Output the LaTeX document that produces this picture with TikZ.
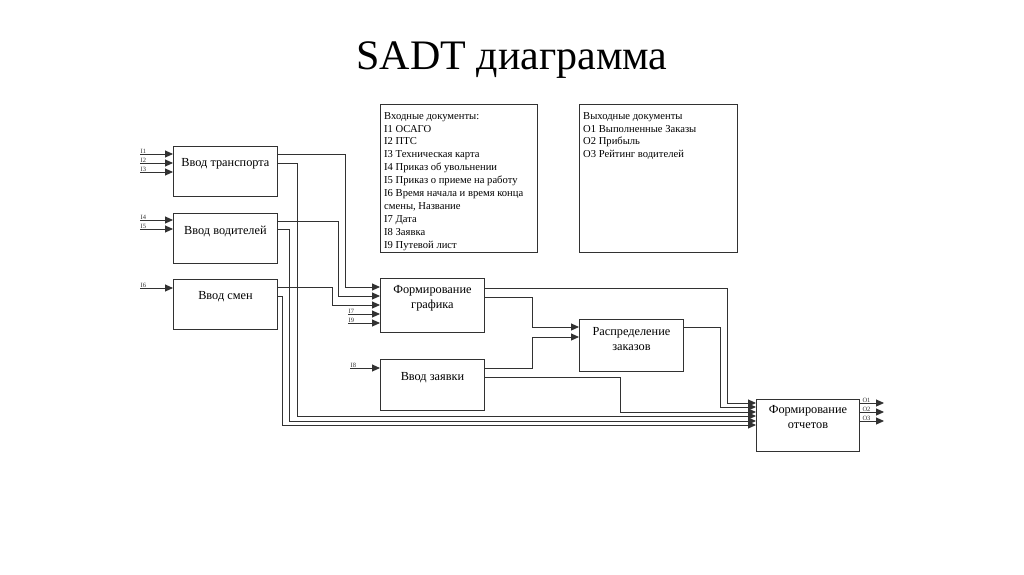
\documentclass[tikz,border=0pt]{standalone}
\usepackage{fontspec}
\setmainfont{Liberation Serif}
\usetikzlibrary{arrows.meta,calc}
\definecolor{ln}{RGB}{50,50,50}
\begin{document}
\begin{tikzpicture}[x=1pt,y=-1pt,
 blk/.style={draw=ln, line width=0.9pt, rectangle, anchor=north west, inner sep=0pt},
 btx/.style={font=\fontsize{12.3}{15}\selectfont, align=center, inner sep=0pt},
 wire/.style={draw=ln, line width=0.9pt},
 arr/.style={wire, -{Triangle[length=8pt,width=7pt]}},
 ilab/.style={font=\fontsize{6.5}{6.5}\selectfont, anchor=south west, inner sep=0.4pt, text=ln},
 doc/.style={font=\fontsize{10.6}{12.9}\selectfont, align=left, anchor=north west, inner sep=0pt}]
\fill[white] (0,0) rectangle (1024,574);
\useasboundingbox (0,0) rectangle (1024,574);

\node[font=\fontsize{42}{42}\selectfont] (title) at (512,60) {SADT диаграмма};

% text boxes
\node[blk, minimum width=157pt, minimum height=148pt] (inb) at (380,104) {};
\node[doc] (inbt) at ($(inb.north west)+(4,8)$) {Входные документы:\\I1 ОСАГО\\I2 ПТС\\I3 Техническая карта\\I4 Приказ об увольнении\\I5 Приказ о приеме на работу\\I6 Время начала и время конца\\смены, Название\\I7 Дата\\I8 Заявка\\I9 Путевой лист};
\node[blk, minimum width=158pt, minimum height=148pt] (outb) at (579,104) {};
\node[doc] (outbt) at ($(outb.north west)+(4,8)$) {Выходные документы\\O1 Выполненные Заказы\\O2 Прибыль\\O3 Рейтинг водителей};

% function boxes
\node[blk, minimum width=104pt, minimum height=50pt] (vt) at (173,146) {};
\node[btx] (vtt) at ($(vt.north)+(0,18)$) {Ввод транспорта};
\node[blk, minimum width=104pt, minimum height=50pt] (vv) at (173,213) {};
\node[btx] (vvt) at ($(vv.north)+(0,18)$) {Ввод водителей};
\node[blk, minimum width=104pt, minimum height=50pt] (vs) at (173,279) {};
\node[btx] (vst) at ($(vs.north)+(0,18)$) {Ввод смен};
\node[blk, minimum width=104pt, minimum height=54pt] (fg) at (380,278) {};
\node[btx] (fgt) at ($(fg.north)+(0,20)$) {Формирование\\графика};
\node[blk, minimum width=104pt, minimum height=51pt] (vz) at (380,359) {};
\node[btx] (vzt) at ($(vz.north)+(0,19)$) {Ввод заявки};
\node[blk, minimum width=104pt, minimum height=52pt] (rz) at (579,319) {};
\node[btx] (rzt) at ($(rz.north)+(0,20)$) {Распределение\\заказов};
\node[blk, minimum width=103pt, minimum height=52pt] (fo) at (756,399) {};
\node[btx] (fot) at ($(fo.north)+(0,18)$) {Формирование\\отчетов};

% external inputs
\coordinate (i1) at (140,154);
\coordinate (i2) at (140,163);
\coordinate (i3) at (140,172);
\coordinate (i4) at (140,220);
\coordinate (i5) at (140,229);
\coordinate (i6) at (140,288);
\coordinate (i7) at (348,314);
\coordinate (i9) at (348,323);
\coordinate (i8) at (350,368);
\foreach \c/\t/\b in {i1/I1/vt, i2/I2/vt, i3/I3/vt, i4/I4/vv, i5/I5/vv, i6/I6/vs, i7/I7/fg, i9/I9/fg, i8/I8/vz}{
  \draw[arr] (\c) -- (\c -| \b.west);
  \node[ilab] (\c l) at (\c) {\t};
}

% internal wires
\draw[arr] ($(vt.north east)+(0,8)$) -- ++(68,0) |- ($(fg.north west)+(0,9)$);
\draw[arr] ($(vt.north east)+(0,17)$) -- ++(20,0) |- ($(fo.north west)+(0,17)$);
\draw[arr] ($(vv.north east)+(0,8)$) -- ++(61,0) |- ($(fg.north west)+(0,18)$);
\draw[arr] ($(vv.north east)+(0,16)$) -- ++(12,0) |- ($(fo.north west)+(0,22)$);
\draw[arr] ($(vs.north east)+(0,8)$) -- ++(55,0) |- ($(fg.north west)+(0,27)$);
\draw[arr] ($(vs.north east)+(0,17)$) -- ++(5,0) |- ($(fo.north west)+(0,26)$);
\draw[arr] ($(fg.north east)+(0,10)$) -- ++(243,0) |- ($(fo.north west)+(0,4)$);
\draw[arr] ($(fg.north east)+(0,19)$) -- ++(48,0) |- ($(rz.north west)+(0,8)$);
\draw[arr] ($(vz.north east)+(0,9)$) -- ++(48,0) |- ($(rz.north west)+(0,18)$);
\draw[arr] ($(vz.north east)+(0,18)$) -- ++(136,0) |- ($(fo.north west)+(0,13)$);
\draw[arr] ($(rz.north east)+(0,8)$) -- ++(37,0) |- ($(fo.north west)+(0,8)$);

% outputs
\coordinate (o1) at (884,403);
\coordinate (o2) at (884,412);
\coordinate (o3) at (884,421);
\foreach \c/\t in {o1/O1, o2/O2, o3/O3}{
  \draw[arr] (\c -| fo.east) -- (\c);
  \node[ilab] (\c l) at ($(\c -| fo.east)+(2,0)$) {\t};
}
\end{tikzpicture}
\end{document}
